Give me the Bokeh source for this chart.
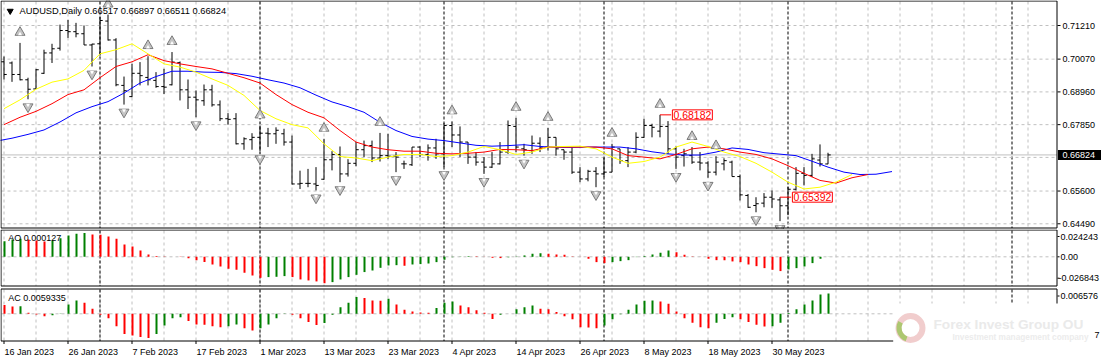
from bokeh.plotting import figure
from bokeh.models import ColumnDataSource, Label, Range1d
from bokeh.layouts import column
from bokeh.embed import file_html
from bokeh.resources import INLINE
from bokeh.core.properties import value

# ---------------------------------------------------------------- data
SYMBOL = "AUDUSD,Daily"
LAST_OHLC = "0.66517 0.66897 0.66511 0.66824"

OPEN = [0.6998, 0.6994, 0.6955, 0.6937, 0.6906, 0.6959, 0.7028, 0.7044, 0.7104, 0.7100,
        0.7093, 0.7055, 0.7059, 0.7136, 0.7072, 0.6918, 0.6880, 0.6959, 0.6945, 0.6935,
        0.6914, 0.6920, 0.6995, 0.6903, 0.6878, 0.6866, 0.6903, 0.6852, 0.6805, 0.6805,
        0.6720, 0.6734, 0.6742, 0.6756, 0.6754, 0.6754, 0.6726, 0.6584, 0.6586, 0.6584,
        0.6600, 0.6666, 0.6684, 0.6618, 0.6654, 0.6700, 0.6714, 0.6672, 0.6680, 0.6678,
        0.6652, 0.6649, 0.6709, 0.6684, 0.6706, 0.6686, 0.6782, 0.6750, 0.6726, 0.6675,
        0.6658, 0.6641, 0.6652, 0.6692, 0.6779, 0.6703, 0.6697, 0.6722, 0.6709, 0.6742,
        0.6700, 0.6692, 0.6624, 0.6601, 0.6627, 0.6618, 0.6624, 0.6703, 0.6663, 0.6692,
        0.6742, 0.6782, 0.6763, 0.6779, 0.6703, 0.6680, 0.6680, 0.6658, 0.6655, 0.6624,
        0.6652, 0.6658, 0.6609, 0.6545, 0.6511, 0.6519, 0.6539, 0.6530, 0.6510, 0.6566,
        0.6620, 0.6613, 0.6665, 0.66517]
HIGH = [0.7016, 0.6999, 0.7062, 0.6944, 0.6974, 0.7039, 0.7059, 0.7124, 0.7140, 0.7130,
        0.7121, 0.7059, 0.7150, 0.7158, 0.7078, 0.6948, 0.6991, 0.6997, 0.7017, 0.6963,
        0.6974, 0.7031, 0.6999, 0.6938, 0.6901, 0.6921, 0.6920, 0.6867, 0.6824, 0.6824,
        0.6742, 0.6756, 0.6782, 0.6774, 0.6776, 0.6771, 0.6748, 0.6629, 0.6635, 0.6641,
        0.6737, 0.6695, 0.6711, 0.6668, 0.6726, 0.6731, 0.6731, 0.6757, 0.6754, 0.6692,
        0.6663, 0.6709, 0.6712, 0.6718, 0.6737, 0.6790, 0.6796, 0.6779, 0.6726, 0.6692,
        0.6675, 0.6692, 0.6726, 0.6799, 0.6808, 0.6720, 0.6748, 0.6742, 0.6774, 0.6742,
        0.6700, 0.6709, 0.6641, 0.6632, 0.6641, 0.6675, 0.6720, 0.6703, 0.6709, 0.6759,
        0.6805, 0.6788, 0.68182, 0.6797, 0.6711, 0.6703, 0.6709, 0.6692, 0.6661, 0.6678,
        0.6671, 0.6663, 0.6616, 0.6550, 0.6539, 0.6553, 0.6562, 0.65392, 0.6574, 0.6641,
        0.6641, 0.6686, 0.6718, 0.66897]
LOW = [0.6938, 0.6930, 0.6935, 0.6871, 0.6906, 0.6957, 0.6994, 0.7036, 0.7079, 0.7081,
       0.7055, 0.6982, 0.7019, 0.7070, 0.6915, 0.6853, 0.6878, 0.6918, 0.6918, 0.6910,
       0.6889, 0.6918, 0.6867, 0.6838, 0.6810, 0.6849, 0.6846, 0.6797, 0.6785, 0.6718,
       0.6700, 0.6700, 0.6695, 0.6709, 0.6720, 0.6714, 0.6582, 0.6567, 0.6573, 0.6562,
       0.6598, 0.6630, 0.6590, 0.6609, 0.6644, 0.6675, 0.6658, 0.6660, 0.6669, 0.6624,
       0.6635, 0.6645, 0.6675, 0.6663, 0.6669, 0.6641, 0.6709, 0.6675, 0.6652, 0.6646,
       0.6618, 0.6638, 0.6650, 0.6686, 0.6692, 0.6680, 0.6686, 0.6692, 0.6697, 0.6680,
       0.6666, 0.6618, 0.6590, 0.6593, 0.6573, 0.6607, 0.6624, 0.6652, 0.6641, 0.6688,
       0.6740, 0.6742, 0.6742, 0.6686, 0.6635, 0.6643, 0.6652, 0.6630, 0.6605, 0.6613,
       0.6630, 0.6609, 0.6528, 0.6503, 0.6488, 0.6505, 0.6503, 0.6458, 0.6478, 0.6562,
       0.6579, 0.6607, 0.6643, 0.66511]
CLOSE = [0.6955, 0.6955, 0.6937, 0.6905, 0.6971, 0.7028, 0.7042, 0.7104, 0.7100, 0.7093,
         0.7055, 0.7058, 0.7138, 0.7072, 0.6920, 0.6900, 0.6959, 0.6951, 0.6937, 0.6914,
         0.6912, 0.6997, 0.6903, 0.6878, 0.6869, 0.6903, 0.6852, 0.6805, 0.6803, 0.6720,
         0.6737, 0.6742, 0.6756, 0.6754, 0.6766, 0.6726, 0.6584, 0.6586, 0.6586, 0.6579,
         0.6666, 0.6684, 0.6618, 0.6654, 0.6700, 0.6714, 0.6672, 0.6680, 0.6678, 0.6675,
         0.6652, 0.6709, 0.6684, 0.6706, 0.6686, 0.6782, 0.6750, 0.6726, 0.6675, 0.6658,
         0.6641, 0.6652, 0.6692, 0.6782, 0.6709, 0.6700, 0.6722, 0.6709, 0.6742, 0.6703,
         0.6692, 0.6624, 0.6601, 0.6627, 0.6618, 0.6624, 0.6709, 0.6663, 0.6692, 0.6742,
         0.6782, 0.6776, 0.6779, 0.6703, 0.6675, 0.6686, 0.6658, 0.6655, 0.6624, 0.6658,
         0.6663, 0.6609, 0.6547, 0.6505, 0.6517, 0.6539, 0.6533, 0.6510, 0.6566, 0.6620,
         0.6613, 0.6669, 0.6652, 0.66824]

# Alligator lines, read every 2nd bar (jaw on odd bars from -1, teeth/lips on even bars from 0)
JAW = [0.6729, 0.6739, 0.6752, 0.6767, 0.6794, 0.6825, 0.6846, 0.6863, 0.6892, 0.6926,
       0.6948, 0.6966, 0.6966, 0.6963, 0.6962, 0.6958, 0.6949, 0.6937, 0.6926, 0.6910,
       0.6885, 0.6862, 0.6846, 0.6827, 0.6793, 0.6765, 0.6745, 0.6736, 0.6731, 0.6723,
       0.6715, 0.6712, 0.6714, 0.6717, 0.6711, 0.6708, 0.6708, 0.6709, 0.6709, 0.6709,
       0.6703, 0.6693, 0.6686, 0.6682, 0.6682, 0.6692, 0.6706, 0.6701, 0.6690, 0.6685,
       0.6680, 0.6661, 0.6641, 0.6624, 0.6616, 0.6617, 0.6626]
TEETH = [0.6785, 0.6810, 0.6830, 0.6856, 0.6887, 0.6903, 0.6944, 0.6982, 0.6998, 0.7022,
         0.7002, 0.6991, 0.6982, 0.6974, 0.6959, 0.6944, 0.6926, 0.6887, 0.6853, 0.6827,
         0.6808, 0.6765, 0.6726, 0.6709, 0.6700, 0.6695, 0.6695, 0.6688, 0.6686, 0.6688,
         0.6692, 0.6701, 0.6700, 0.6697, 0.6709, 0.6709, 0.6709, 0.6709, 0.6703, 0.6680,
         0.6675, 0.6669, 0.6684, 0.6703, 0.6709, 0.6703, 0.6692, 0.6684, 0.6669, 0.6646,
         0.6620, 0.6596, 0.6587, 0.6605, 0.6616]
LIPS = [0.6839, 0.6869, 0.6905, 0.6929, 0.6940, 0.6969, 0.7025, 0.7039, 0.7059, 0.7025,
        0.6991, 0.6980, 0.6963, 0.6940, 0.6918, 0.6884, 0.6833, 0.6805, 0.6785, 0.6774,
        0.6720, 0.6677, 0.6672, 0.6663, 0.6675, 0.6684, 0.6684, 0.6677, 0.6680, 0.6692,
        0.6711, 0.6700, 0.6684, 0.6692, 0.6709, 0.6711, 0.6712, 0.6703, 0.6675, 0.6654,
        0.6660, 0.6675, 0.6709, 0.6726, 0.6711, 0.6692, 0.6677, 0.6654, 0.6624, 0.6590,
        0.6567, 0.6573, 0.6590, 0.6616]
JAW_FIRST, TEETH_FIRST, LIPS_FIRST, LINE_STEP = -1, 0, 0, 2

FRACTAL_UP = [2, 13, 18, 21, 32, 40, 47, 56, 64, 68, 76, 82, 86, 89]
FRACTAL_DOWN = [3, 11, 15, 24, 32, 39, 42, 49, 55, 60, 65, 74, 84, 88, 94, 97]
MARKED_HIGHS = [82, 97]

AO = [0.0159, 0.0176, 0.0183, 0.0176, 0.0166, 0.0155, 0.0166, 0.0189, 0.0216, 0.0233,
      0.02424, 0.0226, 0.0223, 0.0206, 0.0183, 0.0125, 0.0105, 0.0064, 0.0024, 0.0007,
      0.0003, 0.0001, -0.0003, -0.0014, -0.0034, -0.0054, -0.0078, -0.0098, -0.0122, -0.0132,
      -0.0162, -0.0189, -0.0213, -0.0206, -0.0203, -0.0196, -0.0206, -0.0230, -0.0240, -0.0250,
      -0.02684, -0.0257, -0.0230, -0.0206, -0.0183, -0.0155, -0.0139, -0.0112, -0.0088, -0.0085,
      -0.0091, -0.0078, -0.0074, -0.0068, -0.0054, -0.0030, -0.0004, 0.0002, 0.0006, 0.0004,
      0.0001, -0.0010, -0.0013, -0.0005, 0.0003, 0.0014, 0.0030, 0.0037, 0.0030, 0.0024,
      0.0020, 0.0003, 0.0001, -0.0020, -0.0054, -0.0064, -0.0054, -0.0044, -0.0034, -0.0003,
      0.0007, 0.0024, 0.0041, 0.0064, 0.0047, 0.0020, 0.0003, 0.0001, -0.0020, -0.0034,
      -0.0035, -0.0047, -0.0054, -0.0078, -0.0095, -0.0115, -0.0132, -0.0145, -0.0128, -0.0115,
      -0.0098, -0.0064, -0.0020, 0.000127]
AO_PREV = 0.0150
AC = [0.0026, 0.0021, 0.0022, 0.0003, -0.0002, -0.0007, -0.0004, 0.0001, 0.0027, 0.0039,
      0.0032, 0.0015, -0.0003, -0.0013, -0.0036, -0.0059, -0.0063, -0.0068, -0.0071, -0.0059,
      -0.0034, -0.0013, -0.0010, -0.0021, -0.0031, -0.0032, -0.0036, -0.0039, -0.0036, -0.0031,
      -0.0042, -0.0049, -0.0042, -0.0031, -0.0013, 0.0001, -0.0003, -0.0013, -0.0024, -0.0033,
      -0.0027, -0.0003, 0.0019, 0.0032, 0.0049, 0.0046, 0.0039, 0.0038, 0.0044, 0.0027,
      0.0012, 0.0007, 0.0004, 0.0003, 0.0017, 0.0032, 0.0036, 0.0024, 0.0019, 0.0010,
      0.0003, -0.0015, -0.0003, 0.0000, 0.0013, 0.0019, 0.0024, 0.0015, 0.0013, 0.0005,
      -0.0007, -0.0016, -0.0039, -0.0040, -0.0042, -0.0034, -0.0016, -0.0001, 0.0012, 0.0027,
      0.0038, 0.0039, 0.0036, 0.0029, 0.0007, -0.0013, -0.0026, -0.0039, -0.0042, -0.0026,
      -0.0015, -0.0010, -0.0016, -0.0024, -0.0032, -0.0037, -0.0036, -0.0026, 0.0002, 0.0013,
      0.0027, 0.0039, 0.0056, 0.0059335]
AC_PREV = 0.0030
AO_TITLE = "AO 0.000127"
AC_TITLE = "AC 0.0059335"

DATE_LABELS = ["16 Jan 2023", "26 Jan 2023", "7 Feb 2023", "17 Feb 2023", "1 Mar 2023",
               "13 Mar 2023", "23 Mar 2023", "4 Apr 2023", "14 Apr 2023", "26 Apr 2023",
               "8 May 2023", "18 May 2023", "30 May 2023"]
DATE_EVERY = 8
MONTH_STARTS = [12, 32, 55, 75, 98, 126]

PRICE_TICKS = [0.71210, 0.70070, 0.68960, 0.67850, 0.65600, 0.64490]
HIDDEN_LEVEL = 0.66740
CURRENT_PRICE = 0.66824
AO_SCALE_LABELS = ["0.024243", "0.00", "-0.026843"]
AC_SCALE_LABELS = ["0.006576"]
AC_CUT_LABEL = "7"
WATERMARK = "Forex Invest Group OU"
WATERMARK_SUB = "Investment management company"

# ---------------------------------------------------------------- layout helpers
FONT = "Liberation Sans"
FS = "9px"
GRID = "#C0C0C0"
W = 1102
X_START = -3.5 / 8
X_END = X_START + W / 8.0


def ix(px):
    """page pixel column -> bar coordinate"""
    return X_START + px / 8.0


MAIN_T, MAIN_S, MAIN_TOP, MAIN_H = 0.7121 + 25 * 0.0003389, 0.0003389, 0, 229
AO_T, AO_S, AO_TOP, AO_H = (256.3 - 229) / 985.0, 1 / 985.0, 229, 58
AC_T, AC_S, AC_TOP, AC_H = (313.3 - 287) / 3426.0, 1 / 3426.0, 287, 75


def make_fig(T, S, H):
    p = figure(frame_width=W, frame_height=H,
               x_range=Range1d(X_START, X_END), y_range=Range1d(T - H * S, T),
               x_axis_location=None, y_axis_location=None,
               output_backend="svg", toolbar_location=None, tools="",
               min_border_left=0, min_border_right=0, min_border_top=0, min_border_bottom=0)
    p.background_fill_color = "white"
    p.border_fill_color = "white"
    p.outline_line_color = None
    p.xgrid.visible = False
    p.ygrid.visible = False
    return p


def vgrid(p, y0, y1):
    v = list(range(0, 129, 4))
    p.segment(x0=v, y0=[y0] * len(v), x1=v, y1=[y1] * len(v),
              line_color=GRID, line_dash="3 3", line_width=1)
    p.segment(x0=MONTH_STARTS, y0=[y0] * len(MONTH_STARTS), x1=MONTH_STARTS,
              y1=[y1] * len(MONTH_STARTS), line_color="black", line_dash="3 2", line_width=1)


def hline(p, levels, color=GRID, dash="3 3"):
    p.segment(x0=[ix(1)] * len(levels), y0=levels, x1=[ix(1056.5)] * len(levels), y1=levels,
              line_color=color, line_dash=dash, line_width=1)


def txt(p, x, y, s, size=FS, color="black", align="left", style="normal", font=FONT):
    p.text(x=[x], y=[y], text=[s], text_font=value(font), text_font_size=value(size),
           text_color=color, text_align=align, text_baseline="middle",
           text_font_style=style)


N = len(CLOSE)
xs = list(range(N))

# ---------------------------------------------------------------- main chart
main = make_fig(MAIN_T, MAIN_S, MAIN_H)
my = lambda py: MAIN_T - (py - MAIN_TOP) * MAIN_S
vgrid(main, my(1), my(227.5))
hline(main, PRICE_TICKS + [HIDDEN_LEVEL])
hline(main, [CURRENT_PRICE], dash="solid")

TICK = 0.34
src = ColumnDataSource(dict(x=xs, xl=[x - TICK for x in xs], xr=[x + TICK for x in xs],
                            o=OPEN, h=HIGH, l=LOW, c=CLOSE))
main.segment(x0="x", y0="l", x1="x", y1="h", source=src, line_color="black", line_width=1)
main.segment(x0="xl", y0="o", x1="x", y1="o", source=src, line_color="black", line_width=1)
main.segment(x0="x", y0="c", x1="xr", y1="c", source=src, line_color="black", line_width=1)

jaw_x = [JAW_FIRST + LINE_STEP * i for i in range(len(JAW))]
teeth_x = [TEETH_FIRST + LINE_STEP * i for i in range(len(TEETH))]
lips_x = [LIPS_FIRST + LINE_STEP * i for i in range(len(LIPS))]
main.line(jaw_x, JAW, line_color="#0000FF", line_width=1)
main.line(teeth_x, TEETH, line_color="#FF0000", line_width=1)
main.line(lips_x, LIPS, line_color="#FFFF00", line_width=1)

up_y = [HIGH[i] + 10.5 * MAIN_S for i in FRACTAL_UP]
dn_y = [LOW[i] - 7.5 * MAIN_S for i in FRACTAL_DOWN]
main.scatter(FRACTAL_UP, up_y, marker="triangle", size=10,
             fill_color="#C4C4C4", line_color="#7A7A7A", line_width=1)
main.scatter(FRACTAL_UP, [y - 1.74 * MAIN_S for y in up_y], marker="triangle", size=4,
             fill_color="white", line_color=None)
main.scatter(FRACTAL_DOWN, dn_y, marker="inverted_triangle", size=10,
             fill_color="#C4C4C4", line_color="#7A7A7A", line_width=1)
main.scatter(FRACTAL_DOWN, [y + 1.74 * MAIN_S for y in dn_y], marker="inverted_triangle",
             size=4, fill_color="white", line_color=None)

for i in MARKED_HIGHS:
    main.segment(x0=[i], y0=[HIGH[i]], x1=[i + 1.4], y1=[HIGH[i]], line_color="#FF0000",
                 line_width=1)
    main.add_layout(Label(x=i + 1.55, y=HIGH[i], text="%.5f" % HIGH[i], text_font=FONT,
                          text_font_size="10.5px", text_color="#FF0000", text_baseline="middle",
                          text_align="left", background_fill_color="white",
                          border_line_color="#FF0000", padding=1))

# frame border
main.quad(left=[ix(0.5)], right=[ix(1056.5)], top=[my(0.5)], bottom=[my(227.5)],
          fill_color=None, line_color="black", line_width=1)

# header
main.scatter([ix(9.7)], [my(10.5)], marker="inverted_triangle", size=6,
             fill_color="black", line_color="black")
txt(main, ix(19), my(10.5), SYMBOL + "  " + LAST_OHLC, size="9.3px")

# price scale
main.segment(x0=[ix(1057)] * len(PRICE_TICKS), y0=PRICE_TICKS, x1=[ix(1060)] * len(PRICE_TICKS),
             y1=PRICE_TICKS, line_color="black", line_width=1)
main.text(x=[ix(1062)] * len(PRICE_TICKS), y=PRICE_TICKS, text=["%.5f" % v for v in PRICE_TICKS],
          text_font=value(FONT), text_font_size=value(FS), text_color="black",
          text_align="left", text_baseline="middle")
main.quad(left=[ix(1057.5)], right=[ix(1100.5)], top=[CURRENT_PRICE + 5 * MAIN_S],
          bottom=[CURRENT_PRICE - 5 * MAIN_S], fill_color="black", line_color=None)
txt(main, ix(1062), CURRENT_PRICE, "%.5f" % CURRENT_PRICE, color="white")

# ---------------------------------------------------------------- AO
ao = make_fig(AO_T, AO_S, AO_H)
ay = lambda py: AO_T - (py - AO_TOP) * AO_S
vgrid(ao, ay(230), ay(285.5))
hline(ao, [0.0])
prev = [AO_PREV] + AO[:-1]
ao_col = ["#008000" if v > q else "#FF0000" for v, q in zip(AO, prev)]
ao.vbar(x=[x + 0.0625 for x in xs], top=AO, bottom=0, width=0.25, fill_color=ao_col,
        line_color=None)
ao.quad(left=[ix(0.5)], right=[ix(1056.5)], top=[ay(229.5)], bottom=[ay(285.5)],
        fill_color=None, line_color="black", line_width=1)
txt(ao, ix(7.7), ay(237.7), AO_TITLE)
ao_lab_y = [ay(236.0), ay(256.3), ay(277.7)]
ao.segment(x0=[ix(1057)] * 3, y0=ao_lab_y, x1=[ix(1059)] * 3, y1=ao_lab_y,
           line_color="black", line_width=1)
for yy, s in zip(ao_lab_y, AO_SCALE_LABELS):
    txt(ao, ix(1060) if not s.startswith("-") else ix(1058), yy, s)

# ---------------------------------------------------------------- AC
ac = make_fig(AC_T, AC_S, AC_H)
cy = lambda py: AC_T - (py - AC_TOP) * AC_S
vgrid(ac, cy(289), cy(340.5))
hline(ac, [0.0])
prev = [AC_PREV] + AC[:-1]
ac_col = ["#008000" if v > q else "#FF0000" for v, q in zip(AC, prev)]
ac.vbar(x=[x + 0.0625 for x in xs], top=AC, bottom=0, width=0.25, fill_color=ac_col,
        line_color=None)
txt(ac, ix(7.7), cy(297.7), AC_TITLE)

# watermark area
ac.quad(left=[ix(892.7)], right=[X_END + 1], top=[cy(303)], bottom=[cy(365)],
        fill_color="white", line_color=None)
ac.annulus(x=[ix(910)], y=[cy(327.5)], inner_radius=9, outer_radius=15,
           inner_radius_units="screen", outer_radius_units="screen",
           fill_color="#EFC4C4", fill_alpha=0.85, line_color=None)
ac.annular_wedge(x=[ix(910)], y=[cy(327.5)], inner_radius=9, outer_radius=14,
                 inner_radius_units="screen", outer_radius_units="screen",
                 start_angle=150, end_angle=250, start_angle_units="deg", end_angle_units="deg",
                 fill_color="#9CC65A", fill_alpha=0.8, line_color=None)
txt(ac, ix(933), cy(323.5), WATERMARK, size="13.7px", color="#EAEAEA", style="bold")
txt(ac, ix(952), cy(336.2), WATERMARK_SUB, size="8.3px", color="#ECECEC", style="bold")
txt(ac, ix(1094), cy(334.5), AC_CUT_LABEL)

# borders (right/bottom parts hidden by the watermark block)
ac.segment(x0=[ix(0.5), ix(0.5), ix(1056.5), ix(0.5)],
           y0=[cy(288.5), cy(288.5), cy(288.5), cy(340.5)],
           x1=[ix(1056.5), ix(0.5), ix(1056.5), ix(892.7)],
           y1=[cy(288.5), cy(340.5), cy(303), cy(340.5)],
           line_color="black", line_width=1)
ac.segment(x0=[ix(1057)], y0=[cy(295.5)], x1=[ix(1059)], y1=[cy(295.5)],
           line_color="black", line_width=1)
txt(ac, ix(1060), cy(295.5), AC_SCALE_LABELS[0])

# time scale
date_x = [DATE_EVERY * i for i in range(len(DATE_LABELS))]
ac.segment(x0=date_x, y0=[cy(340.5)] * len(date_x), x1=date_x, y1=[cy(343.5)] * len(date_x),
           line_color="black", line_width=1)
ac.text(x=[x + 0.06 for x in date_x], y=[cy(351.5)] * len(date_x), text=DATE_LABELS,
        text_font=value(FONT), text_font_size=value(FS), text_color="black",
        text_align="left", text_baseline="middle")

layout = column(main, ao, ac, spacing=0)
open("out.html", "w").write(file_html(layout, INLINE))
